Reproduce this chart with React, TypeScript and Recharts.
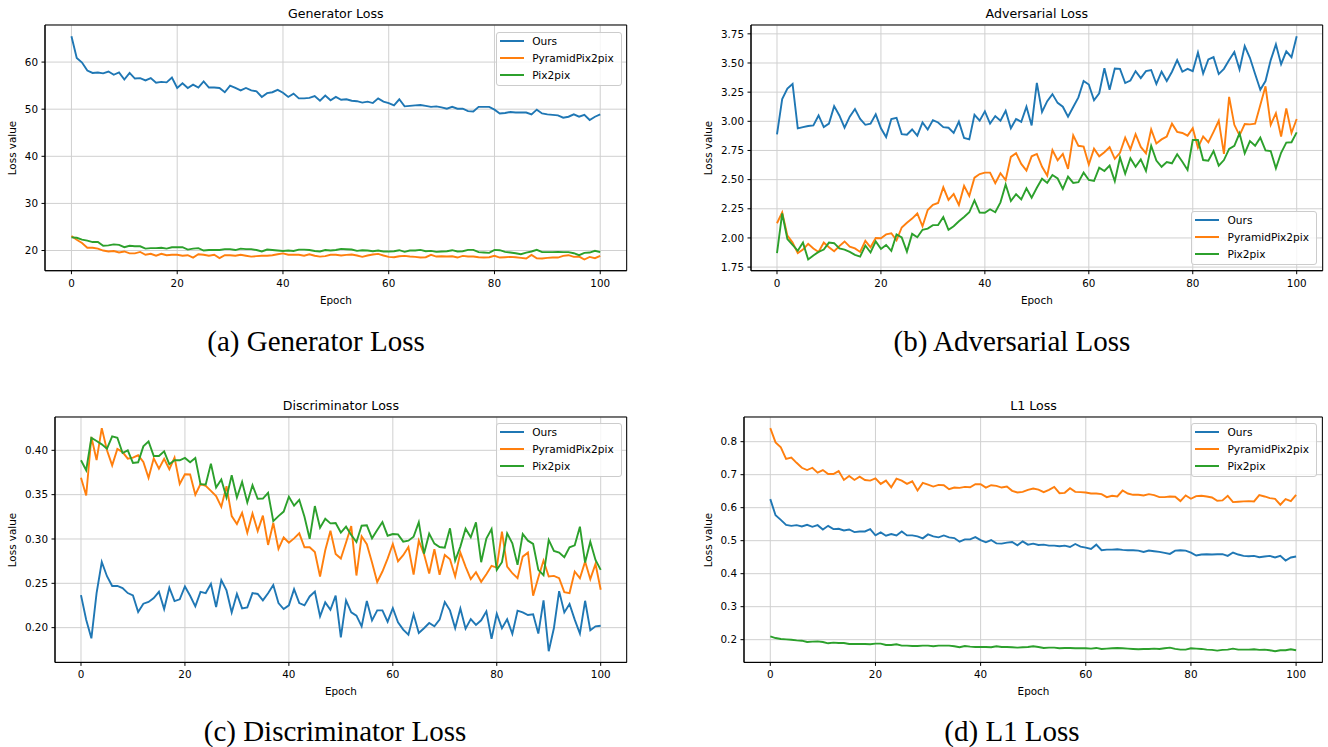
import React from 'react';
import { LineChart, Line, XAxis, YAxis, CartesianGrid, Legend, ReferenceArea } from 'recharts';

// ---------- series names / colours ----------
const seriesNames = ['Ours', 'PyramidPix2pix', 'Pix2pix'];
const seriesKeys = ['ours', 'pyr', 'pix'];
const seriesColors = ['#1f77b4', '#ff7f0e', '#2ca02c'];

// ---------- tick labels ----------
const xTicks = [0, 20, 40, 60, 80, 100];
const genTicks = [20, 30, 40, 50, 60];
const advTicks = [1.75, 2.0, 2.25, 2.5, 2.75, 3.0, 3.25, 3.5, 3.75];
const discTicks = [0.2, 0.25, 0.3, 0.35, 0.4];
const l1Ticks = [0.2, 0.3, 0.4, 0.5, 0.6, 0.7, 0.8];

// ---------- (a) Generator Loss ----------
const genOurs = [
  65.5, 60.85, 59.9, 58.2, 57.7, 57.8, 57.6, 58.0, 57.3, 57.8,
  56.3, 57.7, 56.5, 56.6, 56.1, 56.6, 55.6, 55.8, 55.7, 56.7,
  54.5, 55.5, 54.5, 55.2, 54.6, 55.9, 54.6, 54.6, 54.5, 53.6,
  55.0, 54.5, 54.0, 54.5, 54.0, 53.8, 52.6, 53.4, 53.6, 54.1,
  53.5, 52.6, 53.3, 52.3, 52.3, 52.4, 52.8, 51.8, 52.9, 51.9,
  52.6, 52.0, 52.1, 51.8, 51.7, 51.4, 51.6, 51.3, 52.3, 51.6,
  51.3, 50.8, 52.1, 50.6, 50.7, 50.8, 50.9, 50.7, 50.5, 50.6,
  50.4, 50.1, 50.5, 50.1, 50.1, 49.6, 49.5, 50.5, 50.5, 50.5,
  49.9, 49.1, 49.2, 49.4, 49.3, 49.3, 49.3, 48.9, 49.9, 49.1,
  48.9, 48.8, 48.7, 48.2, 48.4, 48.9, 48.4, 48.8, 47.7, 48.4,
  48.9,
];
const genPyr = [
  23.1, 22.3, 21.6, 20.6, 20.6, 20.4, 20.0, 19.8, 19.9, 19.6,
  19.8, 19.4, 19.4, 19.7, 19.1, 19.3, 18.9, 19.3, 19.0, 19.1,
  19.1, 18.9, 19.0, 18.5, 19.2, 19.1, 18.9, 19.1, 18.4, 19.0,
  19.0, 18.9, 19.1, 18.9, 18.7, 18.8, 18.9, 18.9, 19.0, 19.2,
  19.4, 19.1, 19.1, 19.1, 18.9, 19.2, 18.9, 18.7, 18.8, 19.1,
  19.1, 18.94, 19.08, 19.15, 18.94, 18.65, 18.94, 19.15, 19.29, 18.94,
  18.65, 18.58, 18.79, 18.87, 18.72, 18.65, 18.51, 18.58, 19.08, 18.72,
  18.79, 18.72, 18.79, 18.51, 18.87, 18.72, 18.72, 18.58, 18.51, 18.58,
  18.87, 18.51, 18.58, 18.65, 18.58, 18.44, 18.3, 19.08, 18.37, 18.3,
  18.44, 18.51, 18.51, 18.87, 19.01, 18.65, 18.72, 18.09, 18.65, 18.37,
  18.87,
];
const genPix = [
  22.8, 22.7, 22.3, 22.1, 21.8, 21.8, 21.0, 21.1, 21.3, 21.2,
  20.7, 21.0, 20.9, 20.9, 20.4, 20.5, 20.5, 20.6, 20.4, 20.7,
  20.7, 20.7, 20.2, 20.4, 20.5, 20.0, 20.1, 20.1, 20.1, 20.3,
  20.3, 20.1, 20.4, 20.3, 20.3, 20.1, 19.8, 20.2, 20.1, 20.0,
  19.9, 20.0, 19.9, 20.2, 20.2, 20.1, 19.9, 19.8, 20.1, 20.0,
  20.1, 20.35, 20.28, 20.21, 19.93, 20.07, 20.0, 19.86, 20.0, 19.79,
  19.79, 19.86, 20.07, 19.72, 20.0, 20.0, 20.14, 19.86, 19.93, 19.72,
  19.79, 19.86, 20.07, 19.79, 19.86, 20.14, 20.14, 19.65, 19.57, 19.5,
  20.14, 20.07, 19.72, 19.57, 19.43, 19.22, 19.57, 19.79, 20.14, 19.65,
  19.65, 19.65, 19.72, 19.65, 19.65, 19.43, 19.0, 19.5, 19.57, 19.93,
  19.65,
];

// ---------- (b) Adversarial Loss ----------
const advOurs = [
  2.888, 3.19, 3.28, 3.32, 2.94, 2.95, 2.96, 2.965, 3.05, 2.95,
  2.98, 3.13, 3.05, 2.945, 3.04, 3.105, 3.02, 2.97, 2.98, 3.06,
  2.94, 2.865, 3.02, 3.03, 2.89, 2.885, 2.93, 2.877, 2.99, 2.93,
  3.01, 2.99, 2.95, 2.945, 2.9, 2.997, 2.857, 2.845, 3.055, 3.005,
  3.085, 2.98, 3.045, 3.005, 3.09, 2.94, 3.02, 2.995, 3.125, 2.965,
  3.33, 3.08, 3.173, 3.233, 3.158, 3.125, 3.04, 3.123, 3.205, 3.345,
  3.315, 3.18, 3.24, 3.455, 3.27, 3.453, 3.45, 3.328, 3.35, 3.43,
  3.37, 3.43, 3.44, 3.32, 3.425, 3.345, 3.425, 3.525, 3.425, 3.45,
  3.43, 3.59, 3.41, 3.53, 3.55, 3.405, 3.45, 3.525, 3.595, 3.445,
  3.645, 3.545, 3.405, 3.27, 3.345, 3.525, 3.66, 3.49, 3.6, 3.55,
  3.73,
];
const advPyr = [
  2.126, 2.22, 2.02, 1.96, 1.87, 1.9, 1.95, 1.91, 1.88, 1.96,
  1.92, 1.886, 1.93, 1.97, 1.926, 1.91, 1.88, 1.975, 1.92, 2.0,
  1.998, 2.03, 2.04, 1.98, 2.09, 2.13, 2.166, 2.21, 2.1, 2.24,
  2.283, 2.3, 2.434, 2.326, 2.377, 2.283, 2.446, 2.36, 2.517, 2.548,
  2.56, 2.56, 2.47, 2.555, 2.497, 2.695, 2.727, 2.635, 2.578, 2.7,
  2.72, 2.61, 2.535, 2.754, 2.666, 2.72, 2.592, 2.88, 2.79, 2.783,
  2.63, 2.765, 2.7, 2.735, 2.778, 2.678, 2.73, 2.86, 2.76, 2.89,
  2.78, 2.725, 2.93, 2.81, 2.845, 2.87, 2.98, 2.91, 2.9, 2.877,
  2.94, 2.774, 2.87, 2.82, 2.91, 3.005, 2.72, 3.21, 2.97, 2.88,
  2.977, 2.974, 2.98, 3.14, 3.3, 2.97, 3.07, 2.87, 3.11, 2.9,
  3.02,
];
const advPix = [
  1.87, 2.21, 1.99, 1.94, 1.89, 1.96, 1.815, 1.85, 1.88, 1.9,
  1.96, 1.955, 1.91, 1.9, 1.88, 1.855, 1.84, 1.935, 1.875, 1.97,
  1.906, 1.94, 1.89, 2.03, 2.005, 1.883, 2.035, 2.006, 2.07, 2.08,
  2.11, 2.11, 2.18, 2.07, 2.1, 2.143, 2.18, 2.22, 2.322, 2.218,
  2.216, 2.246, 2.22, 2.305, 2.458, 2.317, 2.376, 2.33, 2.426, 2.345,
  2.43, 2.508, 2.472, 2.54, 2.51, 2.42, 2.526, 2.472, 2.478, 2.56,
  2.497, 2.488, 2.603, 2.574, 2.62, 2.486, 2.69, 2.55, 2.683, 2.61,
  2.674, 2.574, 2.79, 2.663, 2.61, 2.65, 2.64, 2.717, 2.654, 2.583,
  2.84, 2.84, 2.668, 2.663, 2.745, 2.62, 2.668, 2.763, 2.79, 2.897,
  2.725, 2.83, 2.79, 2.86, 2.75, 2.745, 2.597, 2.73, 2.817, 2.82,
  2.905,
];

// ---------- (c) Discriminator Loss ----------
const discOurs = [
  0.2367, 0.209, 0.188, 0.239, 0.274, 0.258, 0.247, 0.247, 0.2446, 0.239,
  0.2364, 0.2176, 0.227, 0.229, 0.2333, 0.2404, 0.221, 0.245, 0.23, 0.232,
  0.2464, 0.236, 0.224, 0.2404, 0.239, 0.2494, 0.2232, 0.2536, 0.242, 0.2172,
  0.238, 0.2217, 0.2228, 0.239, 0.238, 0.2307, 0.2387, 0.248, 0.2277, 0.221,
  0.2251, 0.2434, 0.2277, 0.2251, 0.2352, 0.2406, 0.2127, 0.2285, 0.2202, 0.2362,
  0.189, 0.2307, 0.2172, 0.2135, 0.2015, 0.23, 0.2082, 0.2195, 0.2195, 0.2067,
  0.222, 0.206, 0.1978, 0.1921, 0.215, 0.194, 0.1993, 0.2052, 0.2015, 0.209,
  0.229, 0.2195, 0.1993, 0.2217, 0.1989, 0.2097, 0.203, 0.2083, 0.2184, 0.1873,
  0.2157, 0.1993, 0.2094, 0.1929, 0.2191, 0.2172, 0.2142, 0.215, 0.1933, 0.2307,
  0.1734, 0.1996, 0.2412, 0.2172, 0.2266, 0.209, 0.1933, 0.2303, 0.197, 0.2015,
  0.2022,
];
const discPyr = [
  0.369, 0.349, 0.415, 0.389, 0.425, 0.4, 0.383, 0.4015, 0.398, 0.3906,
  0.3918, 0.3944, 0.387, 0.369, 0.391, 0.3794, 0.3903, 0.3787, 0.3918, 0.362,
  0.373, 0.3727, 0.35, 0.362, 0.36, 0.3543, 0.3483, 0.3363, 0.3596, 0.3258,
  0.3169, 0.3296, 0.3071, 0.3288, 0.309, 0.3264, 0.2933, 0.318, 0.2888, 0.3017,
  0.2959, 0.3007, 0.3064, 0.2906, 0.2906, 0.2854, 0.2577, 0.2872, 0.3092, 0.2831,
  0.2779, 0.2961, 0.3146, 0.2588, 0.303, 0.2942, 0.2736, 0.2515, 0.2633, 0.2778,
  0.2944, 0.2749, 0.2817, 0.291, 0.2598, 0.2981, 0.283, 0.261, 0.2884, 0.2596,
  0.282, 0.2772, 0.2577, 0.2846, 0.2689, 0.2547, 0.2625, 0.2517, 0.2603, 0.2697,
  0.2678, 0.3082, 0.2689, 0.2614, 0.2558, 0.2801, 0.2846, 0.236, 0.2566, 0.2757,
  0.2577, 0.2584, 0.2558, 0.2401, 0.239, 0.2633, 0.2558, 0.2745, 0.2547, 0.2719,
  0.2427,
];
const discPix = [
  0.3888, 0.3775, 0.4142, 0.4105, 0.4067, 0.4019, 0.4157, 0.4142, 0.397, 0.4,
  0.3858, 0.3865, 0.4045, 0.4101, 0.3936, 0.3936, 0.3989, 0.3843, 0.3888, 0.3888,
  0.3914, 0.3865, 0.3914, 0.3618, 0.3614, 0.385, 0.358, 0.367, 0.3468, 0.3719,
  0.3468, 0.3644, 0.3412, 0.3607, 0.3453, 0.3455, 0.352, 0.3202, 0.3258, 0.3309,
  0.3476, 0.3375, 0.3442, 0.3251, 0.3002, 0.3371, 0.3127, 0.3228, 0.3176, 0.318,
  0.3073, 0.3139, 0.3045, 0.2966, 0.315, 0.3154, 0.3007, 0.3101, 0.3191, 0.3037,
  0.3056, 0.3052, 0.297, 0.2981, 0.3026, 0.3189, 0.2834, 0.306, 0.2948, 0.291,
  0.2903, 0.312, 0.2757, 0.2914, 0.3116, 0.3019, 0.3187, 0.2738, 0.3004, 0.3112,
  0.2652, 0.2738, 0.3064, 0.2951, 0.2708, 0.3056, 0.2981, 0.2944, 0.2652, 0.2592,
  0.2989, 0.2865, 0.2846, 0.2794, 0.2906, 0.2929, 0.3139, 0.2734, 0.297, 0.2764,
  0.2652,
];

// ---------- (d) L1 Loss ----------
const l1Ours = [
  0.626, 0.577, 0.563, 0.548, 0.545, 0.547, 0.543, 0.548, 0.542, 0.547,
  0.534, 0.545, 0.535, 0.536, 0.531, 0.534, 0.526, 0.528, 0.528, 0.535,
  0.516, 0.525, 0.515, 0.52, 0.516, 0.528, 0.516, 0.516, 0.513, 0.507,
  0.519, 0.513, 0.51, 0.516, 0.51, 0.508, 0.497, 0.504, 0.504, 0.511,
  0.502, 0.495, 0.502, 0.492, 0.491, 0.494, 0.496, 0.486, 0.498, 0.488,
  0.491, 0.487, 0.488, 0.485, 0.485, 0.483, 0.485, 0.481, 0.49, 0.482,
  0.479, 0.475, 0.488, 0.471, 0.473, 0.473, 0.474, 0.472, 0.471, 0.471,
  0.47, 0.466, 0.47, 0.468, 0.466, 0.463, 0.46, 0.47, 0.471, 0.47,
  0.464, 0.455, 0.458, 0.459, 0.458, 0.459, 0.459, 0.454, 0.464, 0.458,
  0.454, 0.453, 0.454, 0.45, 0.452, 0.454, 0.449, 0.454, 0.44, 0.449,
  0.452,
];
const l1Pyr = [
  0.841, 0.798, 0.783, 0.748, 0.752, 0.736, 0.721, 0.714, 0.721, 0.706,
  0.714, 0.702, 0.702, 0.711, 0.684, 0.696, 0.684, 0.694, 0.684, 0.682,
  0.689, 0.672, 0.682, 0.662, 0.688, 0.682, 0.672, 0.68, 0.652, 0.675,
  0.67, 0.664, 0.669, 0.668, 0.656, 0.661, 0.66, 0.663, 0.662, 0.671,
  0.671, 0.661, 0.668, 0.666, 0.661, 0.664, 0.651, 0.646, 0.648, 0.654,
  0.658, 0.655, 0.647, 0.654, 0.663, 0.644, 0.645, 0.659, 0.648, 0.647,
  0.646, 0.643, 0.643, 0.641, 0.632, 0.636, 0.634, 0.652, 0.643, 0.639,
  0.639, 0.637, 0.641, 0.638, 0.632, 0.632, 0.634, 0.633, 0.62, 0.637,
  0.627, 0.635, 0.636, 0.634, 0.631, 0.621, 0.622, 0.636, 0.617, 0.618,
  0.619, 0.62, 0.619, 0.638, 0.634, 0.629, 0.627, 0.609, 0.626, 0.62,
  0.639,
];
const l1Pix = [
  0.21, 0.205, 0.202, 0.201, 0.2, 0.198, 0.197, 0.193, 0.194, 0.195,
  0.193, 0.189, 0.191, 0.19, 0.19, 0.187, 0.187, 0.187, 0.187, 0.186,
  0.188, 0.188, 0.184, 0.184, 0.186, 0.182, 0.182, 0.181, 0.181, 0.182,
  0.182, 0.18, 0.182, 0.182, 0.182, 0.18, 0.177, 0.181, 0.179, 0.178,
  0.178, 0.178, 0.177, 0.18, 0.178, 0.178, 0.177, 0.176, 0.177, 0.178,
  0.18, 0.178, 0.175, 0.176, 0.176, 0.174, 0.175, 0.175, 0.174, 0.174,
  0.174, 0.173, 0.175, 0.172, 0.173, 0.174, 0.175, 0.174, 0.173, 0.172,
  0.171, 0.172, 0.172, 0.173, 0.172, 0.174, 0.176, 0.172, 0.17, 0.17,
  0.174, 0.173, 0.172, 0.17, 0.169, 0.167, 0.169, 0.17, 0.173, 0.17,
  0.17, 0.17, 0.171, 0.169, 0.17, 0.168, 0.165, 0.168, 0.168, 0.171,
  0.168,
];

// ---------- helpers ----------
const FONT = '"DejaVu Sans", sans-serif';

type Row = { epoch: number; ours: number; pyr: number; pix: number };

function buildRows(a: number[], b: number[], c: number[]): Row[] {
  return a.map((v, i) => ({ epoch: i, ours: v, pyr: b[i], pix: c[i] }));
}

// matplotlib-style 5% autoscale margins
function padDomain(...arrays: number[][]): [number, number] {
  const all = arrays.flat();
  const mn = Math.min(...all);
  const mx = Math.max(...all);
  const pad = (mx - mn) * 0.05;
  return [mn - pad, mx + pad];
}

const xDomain = padDomain([xTicks[0], xTicks[xTicks.length - 1]]);

type Box = { L: number; R: number; T: number; B: number };

function LegendBox() {
  return (
    <div
      style={{
        width: 126,
        height: 54,
        boxSizing: 'border-box',
        border: '1px solid #cccccc',
        borderRadius: 3,
        background: 'rgba(255,255,255,0.8)',
        position: 'relative',
        fontFamily: FONT,
        fontSize: 10.6,
        color: '#000',
      }}
    >
      {seriesNames.map((n, i) => (
        <div
          key={n}
          style={{
            position: 'absolute',
            left: 3,
            top: 8.3 + i * 16.9 - 8,
            height: 16,
            display: 'flex',
            alignItems: 'center',
            whiteSpace: 'nowrap',
          }}
        >
          <svg width={24} height={4} style={{ display: 'block' }}>
            <line x1={0} y1={2} x2={24} y2={2} stroke={seriesColors[i]} strokeWidth={2} />
          </svg>
          <span style={{ marginLeft: 8.5, lineHeight: '16px' }}>{n}</span>
        </div>
      ))}
    </div>
  );
}

function TextAt(props: { x: number; y: number; size: number; family?: string; rotate?: boolean; children: React.ReactNode }) {
  return (
    <div
      style={{
        position: 'absolute',
        left: props.x,
        top: props.y,
        transform: `translate(-50%, -50%)${props.rotate ? ' rotate(-90deg)' : ''}`,
        fontFamily: props.family ?? FONT,
        fontSize: props.size,
        color: '#000',
        whiteSpace: 'nowrap',
        lineHeight: 1,
      }}
    >
      {props.children}
    </div>
  );
}

type PanelProps = {
  rows: Row[];
  yDomain: [number, number];
  yTicks: number[];
  decimals: number;
  box: Box;
  legend: { left: number; top: number };
  title: string;
  yLabelX: number;
};

function Panel({ rows, yDomain, yTicks, decimals, box, legend, title, yLabelX }: PanelProps) {
  const yw = 40;
  const xh = 30;
  const mt = 5;
  const mr = 5;
  const cl = box.L - yw;
  const ct = box.T - mt;
  const w = box.R - box.L + yw + mr;
  const h = box.B - box.T + xh + mt;
  const tickStyle = { fill: '#000', fontSize: 10.4, fontFamily: FONT };
  return (
    <>
      <div style={{ position: 'absolute', left: cl, top: ct }}>
        <LineChart width={w} height={h} data={rows} margin={{ top: mt, right: mr, bottom: 0, left: 0 }}>
          <CartesianGrid stroke="#d0d0d0" strokeWidth={1} />
          <XAxis
            dataKey="epoch"
            type="number"
            domain={xDomain}
            ticks={xTicks}
            interval={0}
            allowDataOverflow
            height={xh}
            tickSize={3.5}
            tickMargin={5}
            tick={tickStyle}
            axisLine={{ stroke: '#000', strokeWidth: 1 }}
            tickLine={{ stroke: '#000', strokeWidth: 1 }}
          />
          <YAxis
            type="number"
            domain={yDomain}
            ticks={yTicks}
            interval={0}
            allowDataOverflow
            width={yw}
            tickSize={3.5}
            tickMargin={3.5}
            tick={tickStyle}
            tickFormatter={(v: number) => v.toFixed(decimals)}
            axisLine={{ stroke: '#000', strokeWidth: 1 }}
            tickLine={{ stroke: '#000', strokeWidth: 1 }}
          />
          {seriesKeys.map((k, i) => (
            <Line
              key={k}
              type="linear"
              dataKey={k}
              name={seriesNames[i]}
              stroke={seriesColors[i]}
              strokeWidth={1.9}
              dot={false}
              activeDot={false}
              isAnimationActive={false}
            />
          ))}
          <ReferenceArea
            x1={xDomain[0]}
            x2={xDomain[1]}
            y1={yDomain[0]}
            y2={yDomain[1]}
            fill="none"
            fillOpacity={0}
            stroke="#000"
            strokeWidth={1}
            ifOverflow="visible"
          />
          <Legend
            layout="horizontal"
            verticalAlign="middle"
            align="center"
            content={() => <LegendBox />}
            wrapperStyle={{ left: legend.left - cl, top: legend.top - ct, width: 126, height: 54 }}
          />
        </LineChart>
      </div>
      <TextAt x={(box.L + box.R) / 2} y={box.T - 11} size={12.6}>{title}</TextAt>
      <TextAt x={(box.L + box.R) / 2} y={box.B + 28.5} size={10.4}>Epoch</TextAt>
      <TextAt x={yLabelX} y={(box.T + box.B) / 2} size={10.4} rotate>Loss value</TextAt>
    </>
  );
}

const genRows = buildRows(genOurs, genPyr, genPix);
const advRows = buildRows(advOurs, advPyr, advPix);
const discRows = buildRows(discOurs, discPyr, discPix);
const l1Rows = buildRows(l1Ours, l1Pyr, l1Pix);

const SERIF = '"Liberation Serif", "Times New Roman", serif';

export default function App() {
  return (
    <div style={{ position: 'absolute', left: 0, top: 0, width: 1328, height: 747, background: '#fff', overflow: 'hidden' }}>
      <Panel
        rows={genRows}
        yDomain={padDomain(genOurs, genPyr, genPix)}
        yTicks={genTicks}
        decimals={0}
        box={{ L: 45, R: 626.7, T: 25.3, B: 271 }}
        legend={{ left: 495.7, top: 31.7 }}
        title="Generator Loss"
        yLabelX={12}
      />
      <Panel
        rows={advRows}
        yDomain={padDomain(advOurs, advPyr, advPix)}
        yTicks={advTicks}
        decimals={2}
        box={{ L: 751, R: 1322.7, T: 25.3, B: 271 }}
        legend={{ left: 1191, top: 211 }}
        title="Adversarial Loss"
        yLabelX={708}
      />
      <Panel
        rows={discRows}
        yDomain={padDomain(discOurs, discPyr, discPix)}
        yTicks={discTicks}
        decimals={2}
        box={{ L: 55, R: 626.7, T: 417.3, B: 662.7 }}
        legend={{ left: 495.7, top: 422.7 }}
        title="Discriminator Loss"
        yLabelX={12.3}
      />
      <Panel
        rows={l1Rows}
        yDomain={padDomain(l1Ours, l1Pyr, l1Pix)}
        yTicks={l1Ticks}
        decimals={1}
        box={{ L: 744.3, R: 1322.7, T: 417.3, B: 662.7 }}
        legend={{ left: 1191, top: 422.7 }}
        title="L1 Loss"
        yLabelX={708.3}
      />
      <TextAt x={316} y={341} size={29} family={SERIF}>(a) Generator Loss</TextAt>
      <TextAt x={1012} y={341} size={29} family={SERIF}>(b) Adversarial Loss</TextAt>
      <TextAt x={335} y={731} size={29} family={SERIF}>(c) Discriminator Loss</TextAt>
      <TextAt x={1012} y={731} size={29} family={SERIF}>(d) L1 Loss</TextAt>
    </div>
  );
}
